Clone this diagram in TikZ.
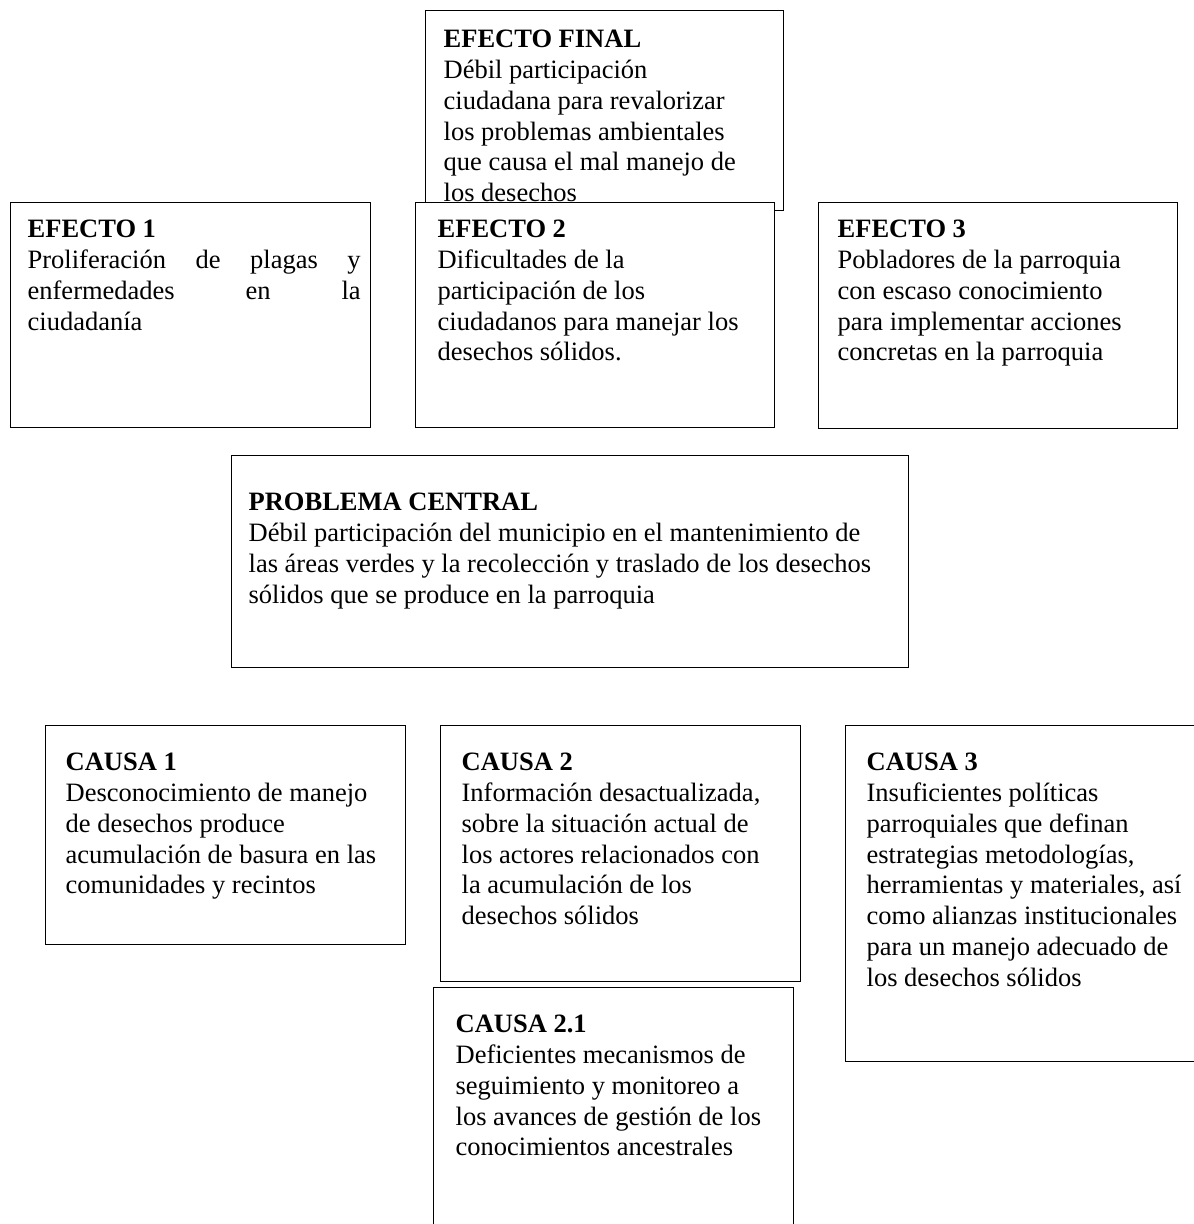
\documentclass[tikz,border=0pt]{standalone}
\usepackage{fontspec}
\setmainfont{Liberation Serif}
\newcommand{\bxt}[5]{\parbox[t][#1][t]{#2}{\raggedright\setlength{\leftskip}{#3}\rule{0pt}{#4}#5}}
\tikzset{
  box/.style={draw=black, line width=1.3pt, fill=white, inner sep=0pt, anchor=north west,
    font=\fontsize{26.5}{30.8}\selectfont}
}
\begin{document}
\begin{tikzpicture}[x=1pt,y=-1pt]
\useasboundingbox (0,0) rectangle (1194,1224);
\clip (0,0) rectangle (1194,1224);
\fill[white] (0,0) rectangle (1194,1224);
% EFECTO FINAL
\node[box] (ef) at (425,10) {\bxt{200pt}{358pt}{18pt}{37pt}{\textbf{EFECTO FINAL}\\
Débil participación\\
ciudadana para revalorizar\\
los problemas ambientales\\
que causa el mal manejo de\\
los desechos}};
% EFECTOS
\node[box] (e1) at (10,202) {\bxt{225pt}{360pt}{17pt}{35pt}{\textbf{EFECTO 1}\\
\makebox[333pt][s]{Proliferación de plagas y}\\
\makebox[333pt][s]{enfermedades en la}\\
ciudadanía}};
\node[box] (e2) at (415,202) {\bxt{225pt}{359pt}{22pt}{35pt}{\textbf{EFECTO 2}\\
Dificultades de la\\
participación de los\\
ciudadanos para manejar los\\
desechos sólidos.}};
\node[box] (e3) at (818,202) {\bxt{226pt}{359pt}{19pt}{35pt}{\textbf{EFECTO 3}\\
Pobladores de la parroquia\\
con escaso conocimiento\\
para implementar acciones\\
concretas en la parroquia}};
% PROBLEMA CENTRAL
\node[box] (pc) at (231,455) {\bxt{212pt}{677pt}{17pt}{55pt}{\textbf{PROBLEMA CENTRAL}\\
Débil participación del municipio en el mantenimiento de\\
las áreas verdes y la recolección y traslado de los desechos\\
sólidos que se produce en la parroquia}};
% CAUSAS
\node[box] (c1) at (45,725) {\bxt{219pt}{360pt}{20pt}{45pt}{\textbf{CAUSA 1}\\
Desconocimiento de manejo\\
de desechos produce\\
acumulación de basura en las\\
comunidades y recintos}};
\node[box] (c2) at (440,725) {\bxt{256pt}{360pt}{21pt}{45pt}{\textbf{CAUSA 2}\\
Información desactualizada,\\
sobre la situación actual de\\
los actores relacionados con\\
la acumulación de los\\
desechos sólidos}};
\node[box] (c3) at (845,725) {\bxt{336pt}{370pt}{21pt}{45pt}{\textbf{CAUSA 3}\\
Insuficientes políticas\\
parroquiales que definan\\
estrategias metodologías,\\
herramientas y materiales, así\\
como alianzas institucionales\\
para un manejo adecuado de\\
los desechos sólidos}};
\node[box] (c21) at (433,987) {\bxt{260pt}{360pt}{22pt}{45pt}{\textbf{CAUSA 2.1}\\
Deficientes mecanismos de\\
seguimiento y monitoreo a\\
los avances de gestión de los\\
conocimientos ancestrales}};
\end{tikzpicture}
\end{document}
